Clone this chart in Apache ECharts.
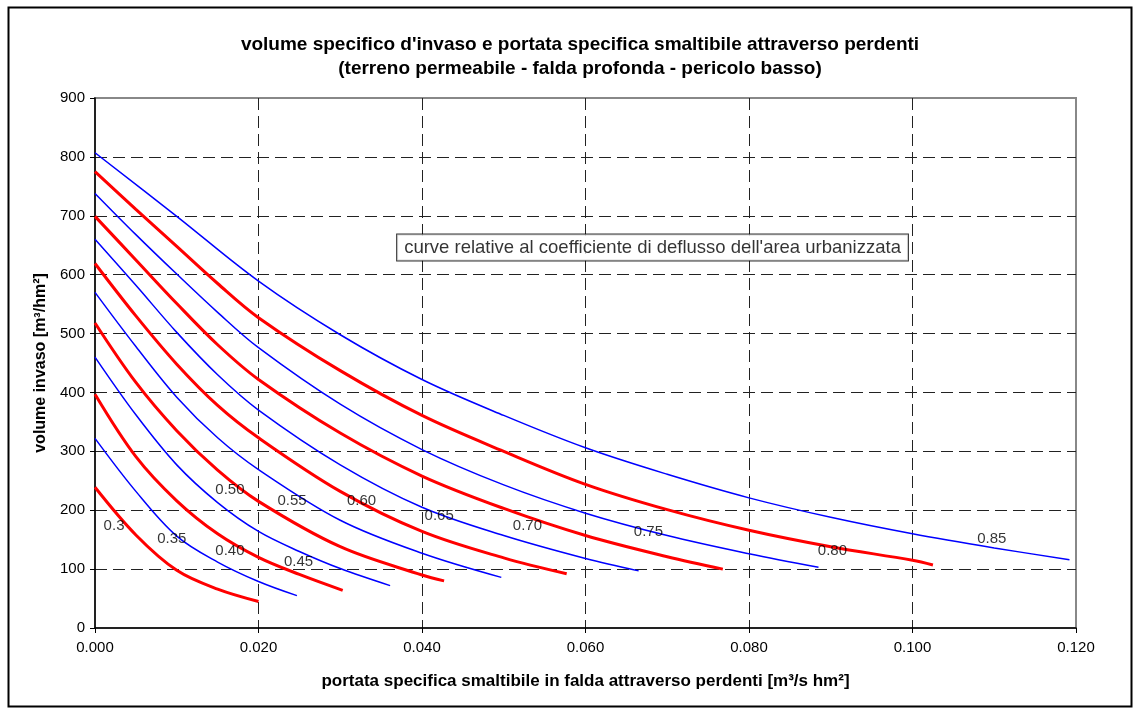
<!DOCTYPE html>
<html><head><meta charset="utf-8">
<script src="https://cdn.jsdelivr.net/npm/echarts@6/dist/echarts.min.js"></script>
<style>html,body{margin:0;padding:0;background:#fff}#c{width:1135px;height:709px}</style>
</head><body><div id="c"></div>
<script>
// ---- data ----
const titleLines = ["volume specifico d'invaso e portata specifica smaltibile attraverso perdenti",
                    "(terreno permeabile - falda profonda - pericolo basso)"];
const xAxisTitle = "portata specifica smaltibile in falda attraverso perdenti [m³/s hm²]";
const yAxisTitle = "volume invaso [m³/hm²]";
const noteText = "curve relative al coefficiente di deflusso dell'area urbanizzata";
const notePos = [0.0682, 646];

const coefficients = ['0.3','0.35','0.40','0.45','0.50','0.55','0.60','0.65','0.70','0.75','0.80','0.85'];

// [portata, volume] pairs
const curve030 = [[0,239],[0.005,158],[0.010,98],[0.015,66],[0.020,45]];
const curve035 = [[0,322],[0.005,232],[0.010,156],[0.015,112],[0.020,79],[0.0247,55]];
const curve040 = [[0,397],[0.005,291],[0.010,216],[0.015,160],[0.020,120],[0.025,91],[0.0303,64]];
const curve045 = [[0,460],[0.005,362],[0.010,277],[0.015,213],[0.020,164],[0.025,130],[0.030,101],[0.0361,72]];
const curve050 = [[0,518],[0.005,417],[0.010,335],[0.015,268],[0.020,215],[0.030,138],[0.040,90],[0.0427,80]];
const curve055 = [[0,570],[0.005,478],[0.010,392],[0.015,323],[0.020,269],[0.030,183],[0.040,127],[0.0497,86]];
const curve060 = [[0,619],[0.005,530],[0.010,448],[0.015,378],[0.020,323],[0.030,232],[0.040,164],[0.050,119],[0.0577,92]];
const curve065 = [[0,660],[0.005,582],[0.010,502],[0.015,430],[0.020,370],[0.030,277],[0.040,205],[0.050,157],[0.060,118],[0.0665,97]];
const curve070 = [[0,699],[0.005,625],[0.010,551],[0.015,481],[0.020,422],[0.030,331],[0.040,258],[0.050,203],[0.060,157],[0.070,121],[0.0768,100]];
const curve075 = [[0,738],[0.005,668],[0.010,601],[0.015,536],[0.020,476],[0.030,380],[0.040,303],[0.050,243],[0.060,195],[0.070,157],[0.080,126],[0.0885,103]];
const curve080 = [[0,775],[0.005,711],[0.010,648],[0.015,585],[0.020,527],[0.030,437],[0.040,361],[0.050,300],[0.060,244],[0.070,201],[0.080,166],[0.090,138],[0.100,115],[0.1025,107]];
const curve085 = [[0,807],[0.010,699],[0.020,589],[0.030,498],[0.040,422],[0.050,361],[0.060,306],[0.070,261],[0.080,221],[0.090,188],[0.100,160],[0.110,136],[0.1192,116]];

const curves = [curve030,curve035,curve040,curve045,curve050,curve055,curve060,curve065,curve070,curve075,curve080,curve085];

const labelText = ['0.3','0.35','0.40','0.45','0.50','0.55','0.60','0.65','0.70','0.75','0.80','0.85'];
const labelX = [0.00233,0.0094,0.0165,0.0249,0.0165,0.0241,0.0326,0.0421,0.0529,0.0677,0.0902,0.1097];
const labelY = [173,152,131,113,235,216,216,191,174,163,131,152];

const xTicks = {min:0, max:0.12, interval:0.02};
const yTicks = {min:0, max:900, interval:100};

// ---- chart ----
const FONT = 'Arial, "Liberation Sans", sans-serif';
const chart = echarts.init(document.getElementById('c'), null, {renderer:'canvas'});

const series = curves.map((c,i)=>({
  type:'line', name:coefficients[i], data:c, showSymbol:false, symbol:'none',
  smooth:0.35, silent:true,
  lineStyle:{color: i%2===0 ? '#ff0000' : '#0000ff', width: i%2===0 ? 3 : 1.5},
  z: 3
}));

series.push({
  type:'scatter', symbolSize:0, silent:true, z:5,
  data: labelText.map((t,i)=>({name:t, value:[labelX[i], labelY[i]]})),
  label:{show:true, position:'inside', formatter:'{b}', color:'#000', fontSize:15, fontFamily:FONT}
});
series.push({
  type:'scatter', symbolSize:0, silent:true, z:6,
  data:[{name:noteText, value:notePos}],
  label:{show:true, position:'inside', formatter:'{b}', color:'#000', fontSize:18.5, fontFamily:FONT,
         backgroundColor:'#fff', borderColor:'#000', borderWidth:1, padding:[4,7,3,7]}
});

const dash = {type:[12,6], color:'#222', width:1};

chart.setOption({
  animation:false,
  backgroundColor:'#fff',
  title:{text:titleLines.join('\n'), left:575, top:28, textAlign:'center',
         textStyle:{fontSize:19, fontWeight:'bold', color:'#000', fontFamily:FONT, lineHeight:24}},
  grid:{left:95, right:59, top:98, bottom:81, show:true, borderColor:'#888', borderWidth:2, backgroundColor:'#fff'},
  xAxis:{type:'value', min:xTicks.min, max:xTicks.max, interval:xTicks.interval,
    name:xAxisTitle, nameLocation:'middle', nameGap:45,
    nameTextStyle:{fontSize:17, fontWeight:'bold', color:'#000', fontFamily:FONT},
    axisLine:{show:true, onZero:false, lineStyle:{color:'#000', width:1.5}},
    axisTick:{show:true, length:5, lineStyle:{color:'#000'}},
    axisLabel:{fontSize:15, color:'#000', fontFamily:FONT, margin:12, formatter:v=>v.toFixed(3)},
    splitLine:{show:true, showMinLine:false, showMaxLine:false, lineStyle:dash}},
  yAxis:{type:'value', min:yTicks.min, max:yTicks.max, interval:yTicks.interval,
    name:yAxisTitle, nameLocation:'middle', nameGap:46,
    nameTextStyle:{fontSize:16, fontWeight:'bold', color:'#000', fontFamily:FONT},
    axisLine:{show:true, onZero:false, lineStyle:{color:'#000', width:1.5}},
    axisTick:{show:true, length:5, lineStyle:{color:'#000'}},
    axisLabel:{fontSize:15, color:'#000', fontFamily:FONT, margin:10},
    splitLine:{show:true, showMinLine:false, showMaxLine:false, lineStyle:dash}},
  graphic:[{type:'rect', left:6, top:5, shape:{width:1123, height:699},
            style:{fill:null, stroke:'#000', lineWidth:2}, silent:true, z:100}],
  series: series
});
</script></body></html>
